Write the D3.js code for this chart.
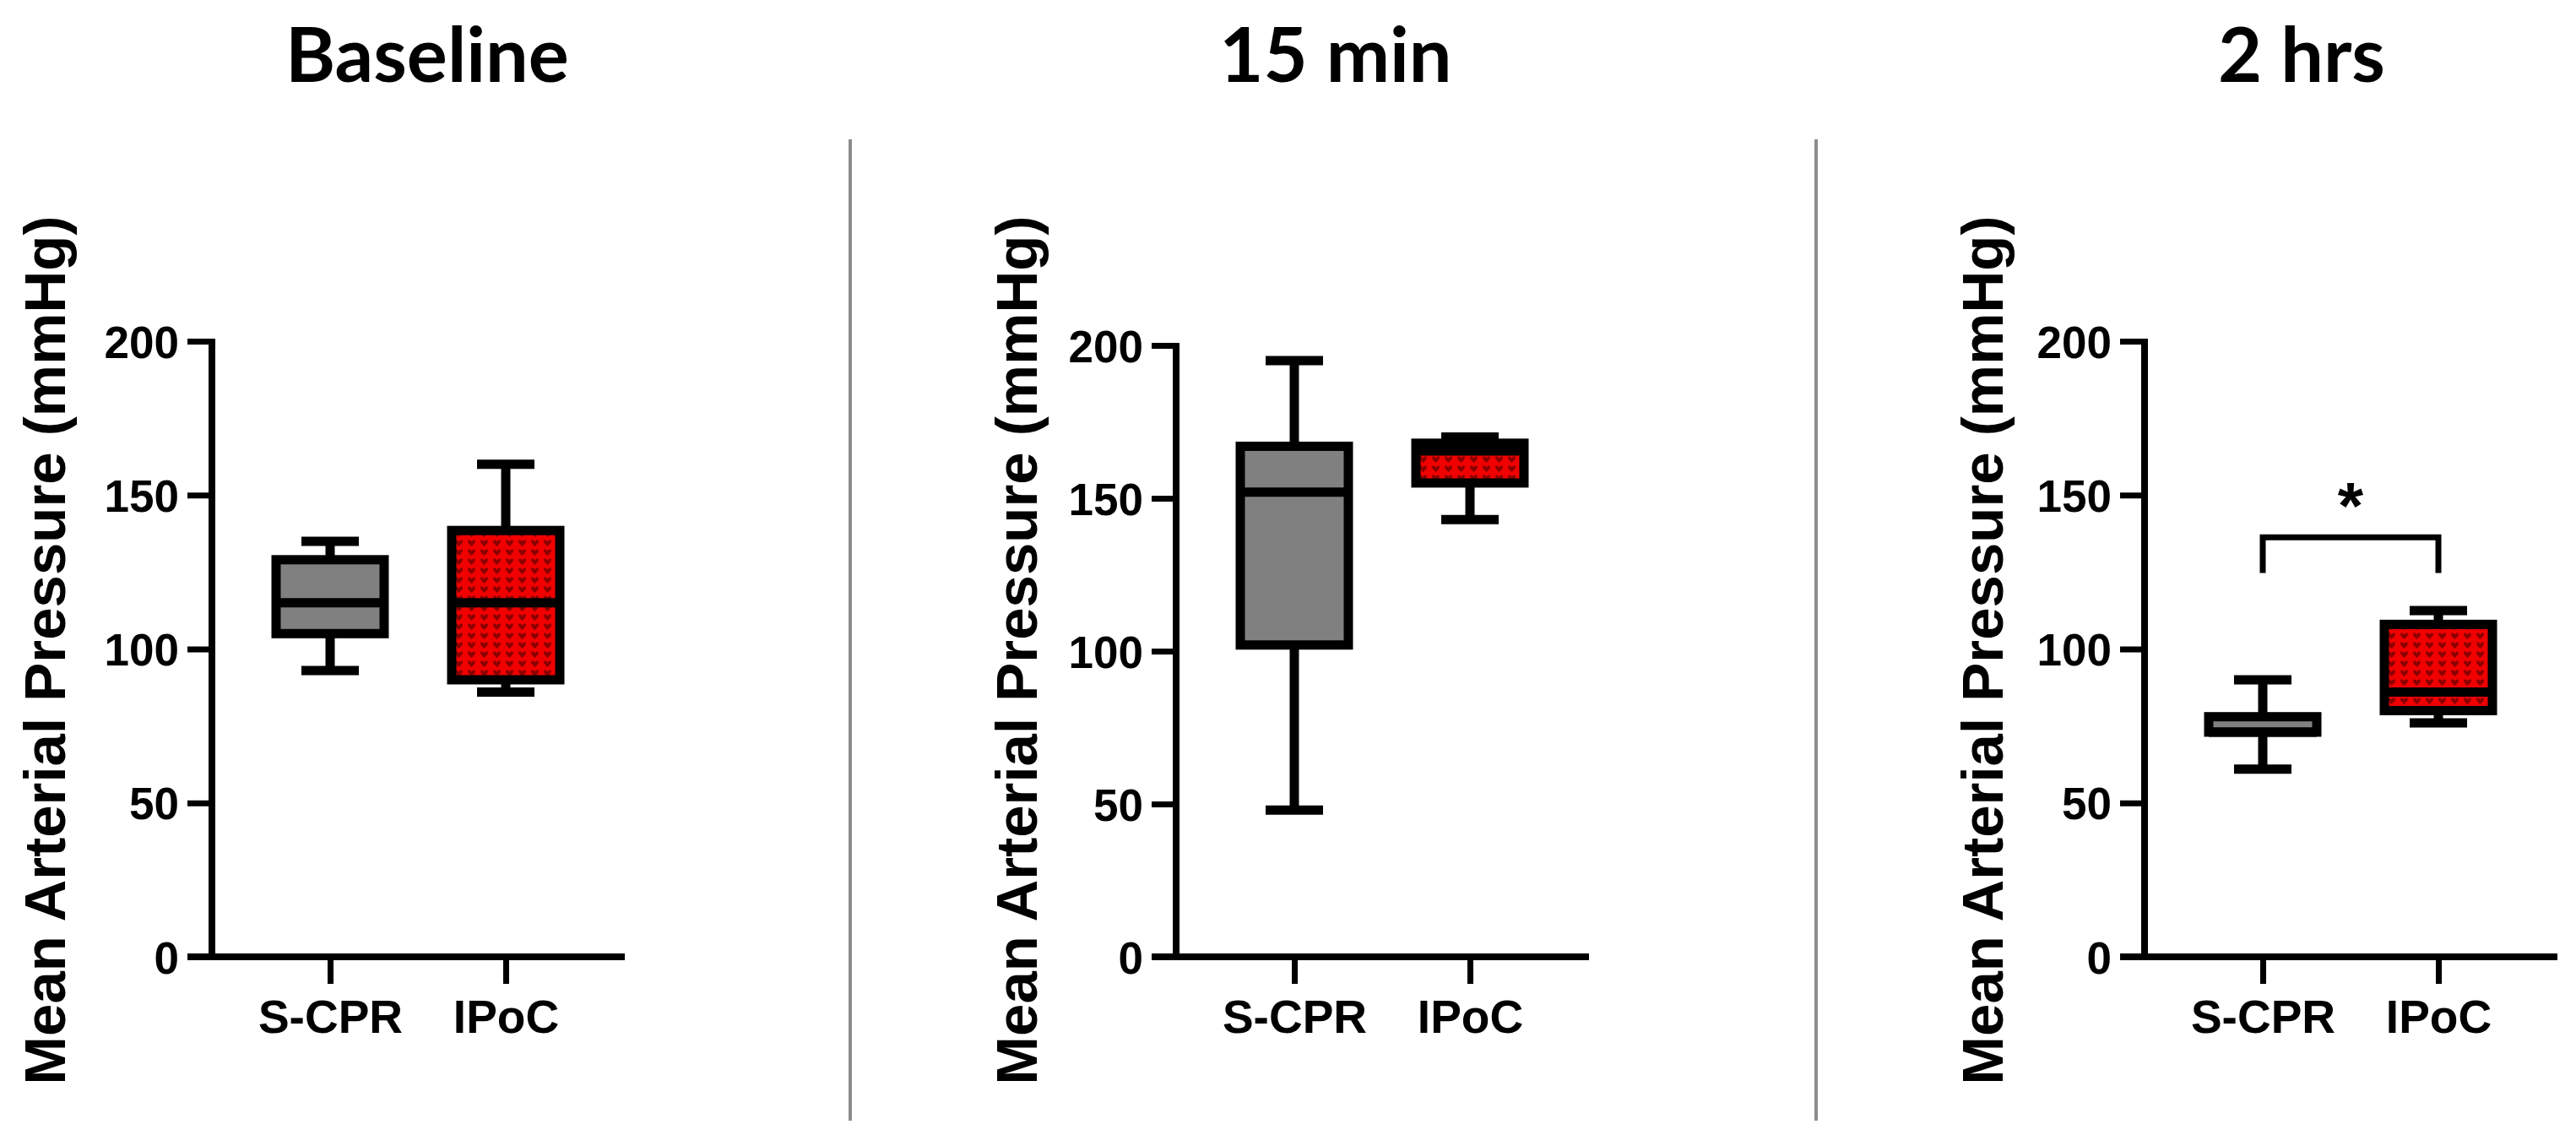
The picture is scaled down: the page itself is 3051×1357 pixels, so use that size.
<!DOCTYPE html>
<html>
<head>
<meta charset="utf-8">
<script src="https://cdn.jsdelivr.net/npm/d3@7"></script>
<style>
  html, body { margin: 0; padding: 0; background: #ffffff; }
  svg { display: block; }
</style>
</head>
<body>
<svg id="chart" width="3051" height="1357"></svg>
<script>
// ---------------- DATA ----------------
const panelTitles = ["Baseline", "15 min", "2 hrs"];
const categories = ["S-CPR", "IPoC"];
const yTicks = [0, 50, 100, 150, 200];
const yLabel = "Mean Arterial Pressure (mmHg)";

// S-CPR box statistics per panel
const sCprMin = [93, 48, 61];
const sCprQ1 = [105, 102, 73];
const sCprMedian = [115, 152, 73];
const sCprQ3 = [129, 167, 78];
const sCprMax = [135, 195, 90];

// IPoC box statistics per panel
const ipocMin = [86, 143, 76];
const ipocQ1 = [90, 155, 80];
const ipocMedian = [115, 165.5, 86];
const ipocQ3 = [138.5, 168, 108];
const ipocMax = [160, 170, 112.5];

// significance annotation (2 hrs panel)
const sigPanelIndex = 2;
const sigBracketValue = 136.3;
const sigLegValue = 124.7;
const sigLabel = "*";

// ---------------- LAYOUT ----------------
const axisX = [251, 1393, 2540];
const yTopPx = [404, 409, 404];
const yBottomPx = 1133;
const titleX = [506, 1582, 2726];
const yTitleBaselineX = [77, 1228, 2372];
const dividerX = [1007, 2151];

const svg = d3.select("#chart");
svg.append("rect").attr("width", 3051).attr("height", 1357).attr("fill", "#ffffff");

// red patterned fill
const defs = svg.append("defs");
const pat = defs.append("pattern")
  .attr("id", "redpat")
  .attr("patternUnits", "userSpaceOnUse")
  .attr("width", 15).attr("height", 11);
pat.append("rect").attr("width", 15).attr("height", 11).attr("fill", "#f00000");
pat.append("path")
  .attr("d", "M3,3 C3,1 6,1 7.5,3.5 C9,1 12,1 12,3 C12,5 9.5,7 7.5,9 C5.5,7 3,5 3,3 Z")
  .attr("fill", "#780000").attr("opacity", 0.85);

const fills = ["#808080", "url(#redpat)"];
const stats = [
  [sCprMin, sCprQ1, sCprMedian, sCprQ3, sCprMax],
  [ipocMin, ipocQ1, ipocMedian, ipocQ3, ipocMax]
];

const font = "'Liberation Sans', Arial, Helvetica, sans-serif";
const boxW = 128, capW = 68, boxStroke = 11;

// dividers
dividerX.forEach(dx => {
  svg.append("line")
    .attr("x1", dx).attr("x2", dx).attr("y1", 165).attr("y2", 1327)
    .attr("stroke", "#8c8c8c").attr("stroke-width", 4);
});

panelTitles.forEach((title, i) => {
  // panel title
  svg.append("text")
    .attr("x", titleX[i]).attr("y", 97)
    .attr("text-anchor", "middle")
    .attr("font-family", "Lato, 'Open Sans', sans-serif")
    .attr("font-weight", 700)
    .attr("font-size", 90)
    .attr("fill", "#000")
    .text(title);

  const g = svg.append("g").attr("transform", `translate(${axisX[i]},0)`);

  const y = d3.scaleLinear().domain([0, 200]).range([yBottomPx, yTopPx[i]]);
  const x = d3.scalePoint().domain(categories).range([0, 488]).padding(0.673);

  // y axis
  const yAx = g.append("g")
    .call(d3.axisLeft(y).tickValues(yTicks).tickSize(29).tickSizeOuter(0).tickPadding(10));
  yAx.select(".domain").attr("stroke", "#000").attr("stroke-width", 8)
    .attr("d", `M0,${y(200) - 3}V${y(0)}`);
  yAx.selectAll(".tick line").attr("stroke", "#000").attr("stroke-width", 7);
  yAx.selectAll(".tick text")
    .attr("font-family", font).attr("font-weight", 700).attr("font-size", 53)
    .attr("fill", "#000").attr("dy", "0.36em");

  // x axis
  const xAx = g.append("g").attr("transform", `translate(0,${y(0)})`)
    .call(d3.axisBottom(x).tickSize(32).tickSizeOuter(0).tickPadding(10));
  xAx.select(".domain").attr("stroke", "#000").attr("stroke-width", 8)
    .attr("d", "M-29,0H489");
  xAx.selectAll(".tick line").attr("stroke", "#000").attr("stroke-width", 7);
  xAx.selectAll(".tick text")
    .attr("font-family", font).attr("font-weight", 700).attr("font-size", 55)
    .attr("fill", "#000").attr("y", 90).attr("dy", 0);

  // y axis title
  svg.append("text")
    .attr("transform", `translate(${yTitleBaselineX[i]},770) rotate(-90)`)
    .attr("text-anchor", "middle")
    .attr("font-family", font).attr("font-weight", 700).attr("font-size", 69)
    .attr("fill", "#000")
    .text(yLabel);

  // boxes
  categories.forEach((cat, c) => {
    const [mn, q1, md, q3, mx] = stats[c].map(a => a[i]);
    const cx = x(cat);
    const bg = g.append("g");
    // whiskers
    bg.append("line").attr("x1", cx).attr("x2", cx).attr("y1", y(mx)).attr("y2", y(q3))
      .attr("stroke", "#000").attr("stroke-width", boxStroke);
    bg.append("line").attr("x1", cx).attr("x2", cx).attr("y1", y(q1)).attr("y2", y(mn))
      .attr("stroke", "#000").attr("stroke-width", boxStroke);
    bg.append("line").attr("x1", cx - capW / 2).attr("x2", cx + capW / 2).attr("y1", y(mx)).attr("y2", y(mx))
      .attr("stroke", "#000").attr("stroke-width", boxStroke);
    bg.append("line").attr("x1", cx - capW / 2).attr("x2", cx + capW / 2).attr("y1", y(mn)).attr("y2", y(mn))
      .attr("stroke", "#000").attr("stroke-width", boxStroke);
    // box
    bg.append("rect")
      .attr("x", cx - boxW / 2).attr("width", boxW)
      .attr("y", y(q3)).attr("height", y(q1) - y(q3))
      .attr("fill", fills[c]).attr("stroke", "#000").attr("stroke-width", boxStroke);
    // median
    bg.append("line").attr("x1", cx - boxW / 2).attr("x2", cx + boxW / 2).attr("y1", y(md)).attr("y2", y(md))
      .attr("stroke", "#000").attr("stroke-width", boxStroke);
  });

  // significance bracket
  if (i === sigPanelIndex) {
    const x1 = x(categories[0]), x2 = x(categories[1]);
    g.append("path")
      .attr("d", `M${x1},${y(sigLegValue)}V${y(sigBracketValue)}H${x2}V${y(sigLegValue)}`)
      .attr("fill", "none").attr("stroke", "#000").attr("stroke-width", 7);
    g.append("text")
      .attr("x", (x1 + x2) / 2).attr("y", y(sigBracketValue) - 10)
      .attr("text-anchor", "middle")
      .attr("font-family", font).attr("font-weight", 700).attr("font-size", 78)
      .attr("fill", "#000")
      .text(sigLabel);
  }
});
</script>
</body>
</html>
